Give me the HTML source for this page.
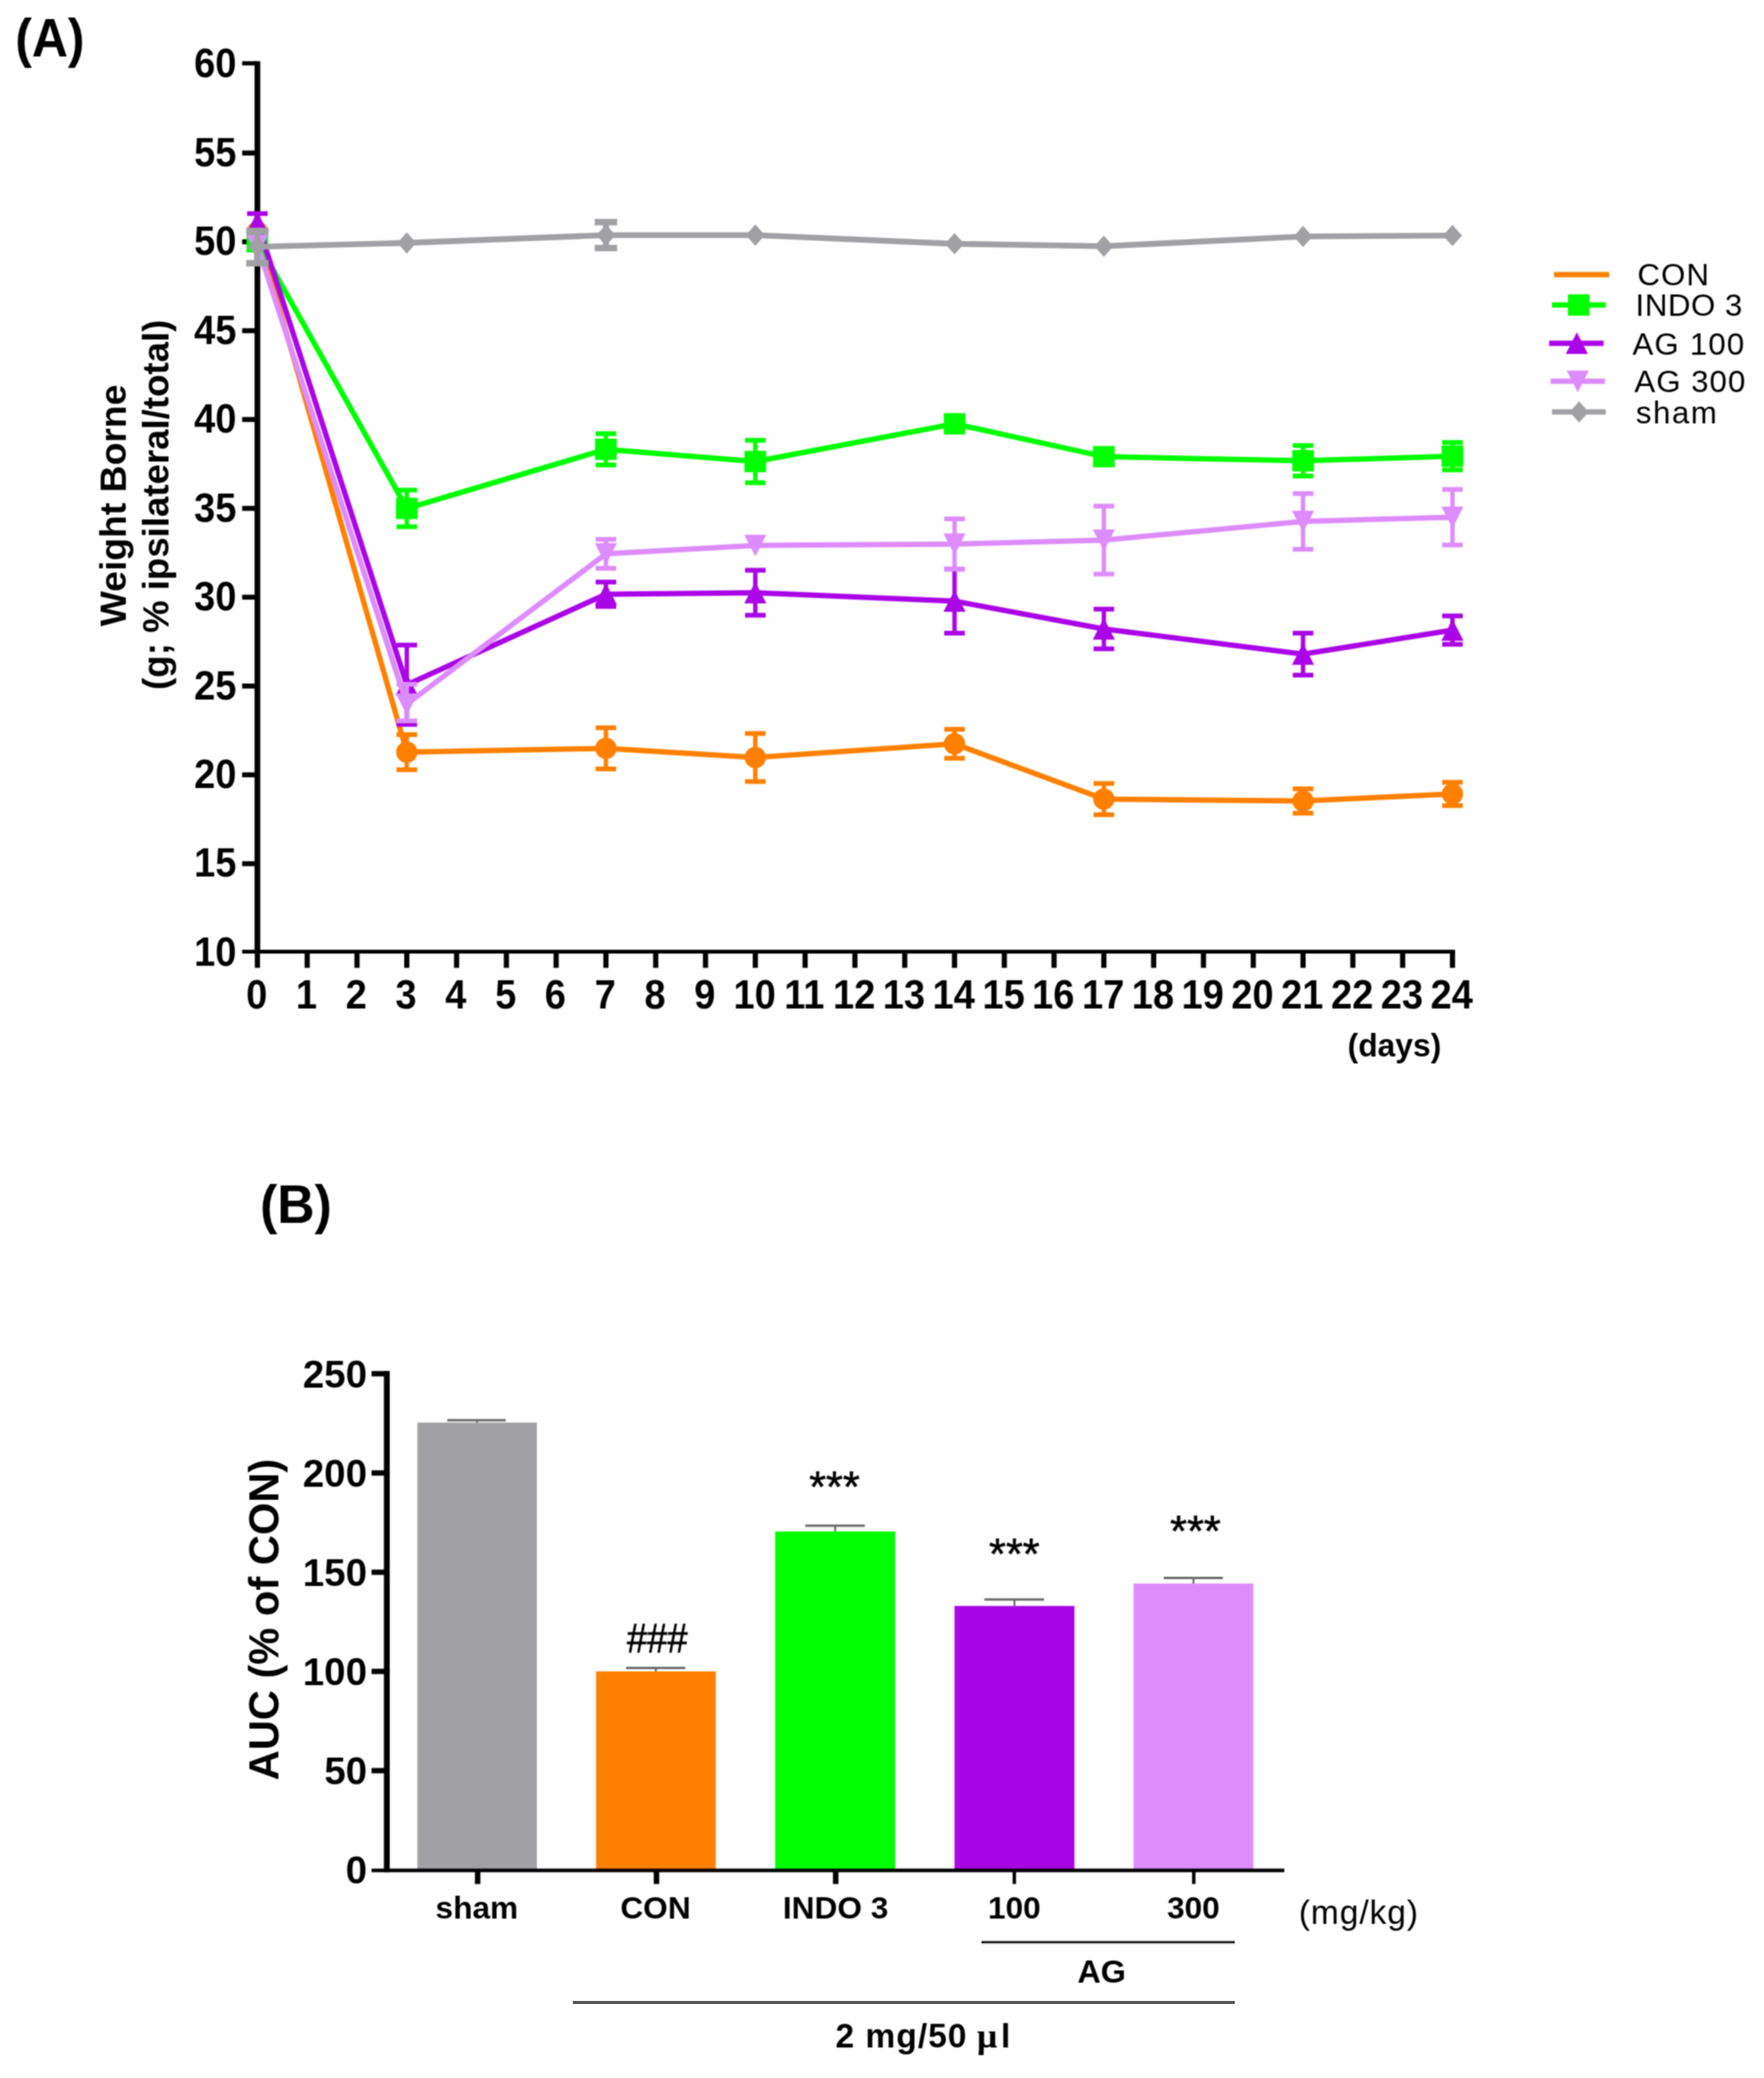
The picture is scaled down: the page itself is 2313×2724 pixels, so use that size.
<!DOCTYPE html>
<html lang="en"><head><meta charset="utf-8"><title>Figure</title>
<style>html,body{margin:0;padding:0;background:#fff}body{width:2313px;height:2724px;overflow:hidden}svg{display:block}</style>
</head><body>
<svg width="2313" height="2724" viewBox="0 0 2313 2724" font-family='"Liberation Sans", sans-serif'>
<defs><filter id="soft" x="0" y="0" width="2313" height="2724" filterUnits="userSpaceOnUse" color-interpolation-filters="sRGB"><feConvolveMatrix order="3" kernelMatrix="1 2 1 2 4 2 1 2 1" divisor="16" edgeMode="duplicate" preserveAlpha="true"/></filter></defs>
<g filter="url(#soft)">
<rect width="2313" height="2724" fill="#fff"/>
<text transform="translate(20 73.7) scale(0.936 1)" font-size="70" font-weight="bold">(A)</text>
<text transform="translate(340.9 1602.5) scale(0.97 1)" font-size="70" font-weight="bold">(B)</text>
<g stroke="#000" fill="none">
<line x1="337.5" y1="80.25" x2="337.5" y2="1250.2" stroke-width="7.5"/>
<line x1="317.5" y1="1247.4" x2="1907.8600000000001" y2="1247.4" stroke-width="5"/>
<line x1="317.5" y1="83.0" x2="337.5" y2="83.0" stroke-width="5.5"/>
<line x1="317.5" y1="1132.2" x2="337.5" y2="1132.2" stroke-width="6.5"/>
<line x1="317.5" y1="1015.7" x2="337.5" y2="1015.7" stroke-width="6.5"/>
<line x1="317.5" y1="899.3" x2="337.5" y2="899.3" stroke-width="6.5"/>
<line x1="317.5" y1="782.8" x2="337.5" y2="782.8" stroke-width="6.5"/>
<line x1="317.5" y1="666.4" x2="337.5" y2="666.4" stroke-width="6.5"/>
<line x1="317.5" y1="549.9" x2="337.5" y2="549.9" stroke-width="6.5"/>
<line x1="317.5" y1="433.5" x2="337.5" y2="433.5" stroke-width="6.5"/>
<line x1="317.5" y1="317.0" x2="337.5" y2="317.0" stroke-width="6.5"/>
<line x1="317.5" y1="200.6" x2="337.5" y2="200.6" stroke-width="6.5"/>
<line x1="337.5" y1="1247.2" x2="337.5" y2="1268.7" stroke-width="6.8"/>
<line x1="402.8" y1="1247.2" x2="402.8" y2="1268.7" stroke-width="6.8"/>
<line x1="468.1" y1="1247.2" x2="468.1" y2="1268.7" stroke-width="6.8"/>
<line x1="533.4" y1="1247.2" x2="533.4" y2="1268.7" stroke-width="6.8"/>
<line x1="598.7" y1="1247.2" x2="598.7" y2="1268.7" stroke-width="6.8"/>
<line x1="664.0" y1="1247.2" x2="664.0" y2="1268.7" stroke-width="6.8"/>
<line x1="729.2" y1="1247.2" x2="729.2" y2="1268.7" stroke-width="6.8"/>
<line x1="794.5" y1="1247.2" x2="794.5" y2="1268.7" stroke-width="6.8"/>
<line x1="859.8" y1="1247.2" x2="859.8" y2="1268.7" stroke-width="6.8"/>
<line x1="925.1" y1="1247.2" x2="925.1" y2="1268.7" stroke-width="6.8"/>
<line x1="990.4" y1="1247.2" x2="990.4" y2="1268.7" stroke-width="6.8"/>
<line x1="1055.7" y1="1247.2" x2="1055.7" y2="1268.7" stroke-width="6.8"/>
<line x1="1121.0" y1="1247.2" x2="1121.0" y2="1268.7" stroke-width="6.8"/>
<line x1="1186.3" y1="1247.2" x2="1186.3" y2="1268.7" stroke-width="6.8"/>
<line x1="1251.6" y1="1247.2" x2="1251.6" y2="1268.7" stroke-width="6.8"/>
<line x1="1316.9" y1="1247.2" x2="1316.9" y2="1268.7" stroke-width="6.8"/>
<line x1="1382.1" y1="1247.2" x2="1382.1" y2="1268.7" stroke-width="6.8"/>
<line x1="1447.4" y1="1247.2" x2="1447.4" y2="1268.7" stroke-width="6.8"/>
<line x1="1512.7" y1="1247.2" x2="1512.7" y2="1268.7" stroke-width="6.8"/>
<line x1="1578.0" y1="1247.2" x2="1578.0" y2="1268.7" stroke-width="6.8"/>
<line x1="1643.3" y1="1247.2" x2="1643.3" y2="1268.7" stroke-width="6.8"/>
<line x1="1708.6" y1="1247.2" x2="1708.6" y2="1268.7" stroke-width="6.8"/>
<line x1="1773.9" y1="1247.2" x2="1773.9" y2="1268.7" stroke-width="6.8"/>
<line x1="1839.2" y1="1247.2" x2="1839.2" y2="1268.7" stroke-width="6.8"/>
<line x1="1904.5" y1="1247.2" x2="1904.5" y2="1268.7" stroke-width="6.8"/>
</g>
<g font-size="53.6" font-weight="bold" text-anchor="end">
<text transform="translate(310 1265.9) scale(0.931 1)">10</text>
<text transform="translate(310 1149.4) scale(0.931 1)">15</text>
<text transform="translate(310 1032.9) scale(0.931 1)">20</text>
<text transform="translate(310 916.5) scale(0.931 1)">25</text>
<text transform="translate(310 800.0) scale(0.931 1)">30</text>
<text transform="translate(310 683.6) scale(0.931 1)">35</text>
<text transform="translate(310 567.1) scale(0.931 1)">40</text>
<text transform="translate(310 450.7) scale(0.931 1)">45</text>
<text transform="translate(310 334.2) scale(0.931 1)">50</text>
<text transform="translate(310 217.8) scale(0.931 1)">55</text>
<text transform="translate(310 101.4) scale(0.931 1)">60</text>
</g>
<g font-size="53.6" font-weight="bold" text-anchor="middle">
<text transform="translate(336.5 1322.2) scale(0.931 1)">0</text>
<text transform="translate(401.8 1322.2) scale(0.931 1)">1</text>
<text transform="translate(467.1 1322.2) scale(0.931 1)">2</text>
<text transform="translate(532.4 1322.2) scale(0.931 1)">3</text>
<text transform="translate(597.7 1322.2) scale(0.931 1)">4</text>
<text transform="translate(663.0 1322.2) scale(0.931 1)">5</text>
<text transform="translate(728.2 1322.2) scale(0.931 1)">6</text>
<text transform="translate(793.5 1322.2) scale(0.931 1)">7</text>
<text transform="translate(858.8 1322.2) scale(0.931 1)">8</text>
<text transform="translate(924.1 1322.2) scale(0.931 1)">9</text>
<text transform="translate(989.4 1322.2) scale(0.931 1)">10</text>
<text transform="translate(1054.7 1322.2) scale(0.931 1)">11</text>
<text transform="translate(1120.0 1322.2) scale(0.931 1)">12</text>
<text transform="translate(1185.3 1322.2) scale(0.931 1)">13</text>
<text transform="translate(1250.6 1322.2) scale(0.931 1)">14</text>
<text transform="translate(1315.9 1322.2) scale(0.931 1)">15</text>
<text transform="translate(1381.1 1322.2) scale(0.931 1)">16</text>
<text transform="translate(1446.4 1322.2) scale(0.931 1)">17</text>
<text transform="translate(1511.7 1322.2) scale(0.931 1)">18</text>
<text transform="translate(1577.0 1322.2) scale(0.931 1)">19</text>
<text transform="translate(1642.3 1322.2) scale(0.931 1)">20</text>
<text transform="translate(1707.6 1322.2) scale(0.931 1)">21</text>
<text transform="translate(1772.9 1322.2) scale(0.931 1)">22</text>
<text transform="translate(1838.2 1322.2) scale(0.931 1)">23</text>
<text transform="translate(1903.5 1322.2) scale(0.931 1)">24</text>
</g>
<text x="1767" y="1385" font-size="41.7" font-weight="bold">(days)</text>
<g font-size="49.5" font-weight="bold" text-anchor="middle">
<text transform="translate(165 662.6) rotate(-90)" font-size="48.9">Weight Borne</text>
<text transform="translate(221.2 661.7) rotate(-90)" font-size="48">(g; % ipsilateral/total)</text>
</g>
<g stroke="#FF8000" fill="none" stroke-linejoin="miter">
<line x1="533.4" y1="986.0" x2="533.4" y2="963.0" stroke-width="5.8"/>
<line x1="519.9" y1="963.0" x2="546.9" y2="963.0" stroke-width="6.2"/>
<line x1="533.4" y1="986.0" x2="533.4" y2="1009.0" stroke-width="5.8"/>
<line x1="519.9" y1="1009.0" x2="546.9" y2="1009.0" stroke-width="6.2"/>
<line x1="794.5" y1="981.0" x2="794.5" y2="954.0" stroke-width="5.8"/>
<line x1="781.0" y1="954.0" x2="808.0" y2="954.0" stroke-width="6.2"/>
<line x1="794.5" y1="981.0" x2="794.5" y2="1008.0" stroke-width="5.8"/>
<line x1="781.0" y1="1008.0" x2="808.0" y2="1008.0" stroke-width="6.2"/>
<line x1="990.4" y1="993.0" x2="990.4" y2="961.5" stroke-width="5.8"/>
<line x1="976.9" y1="961.5" x2="1003.9" y2="961.5" stroke-width="6.2"/>
<line x1="990.4" y1="993.0" x2="990.4" y2="1024.5" stroke-width="5.8"/>
<line x1="976.9" y1="1024.5" x2="1003.9" y2="1024.5" stroke-width="6.2"/>
<line x1="1251.6" y1="975.0" x2="1251.6" y2="956.0" stroke-width="5.8"/>
<line x1="1238.1" y1="956.0" x2="1265.1" y2="956.0" stroke-width="6.2"/>
<line x1="1251.6" y1="975.0" x2="1251.6" y2="994.0" stroke-width="5.8"/>
<line x1="1238.1" y1="994.0" x2="1265.1" y2="994.0" stroke-width="6.2"/>
<line x1="1447.4" y1="1047.5" x2="1447.4" y2="1027.0" stroke-width="5.8"/>
<line x1="1433.9" y1="1027.0" x2="1460.9" y2="1027.0" stroke-width="6.2"/>
<line x1="1447.4" y1="1047.5" x2="1447.4" y2="1068.0" stroke-width="5.8"/>
<line x1="1433.9" y1="1068.0" x2="1460.9" y2="1068.0" stroke-width="6.2"/>
<line x1="1708.6" y1="1050.0" x2="1708.6" y2="1034.0" stroke-width="5.8"/>
<line x1="1695.1" y1="1034.0" x2="1722.1" y2="1034.0" stroke-width="6.2"/>
<line x1="1708.6" y1="1050.0" x2="1708.6" y2="1066.0" stroke-width="5.8"/>
<line x1="1695.1" y1="1066.0" x2="1722.1" y2="1066.0" stroke-width="6.2"/>
<line x1="1904.5" y1="1040.8" x2="1904.5" y2="1025.5" stroke-width="5.8"/>
<line x1="1891.0" y1="1025.5" x2="1918.0" y2="1025.5" stroke-width="6.2"/>
<line x1="1904.5" y1="1040.8" x2="1904.5" y2="1056.1" stroke-width="5.8"/>
<line x1="1891.0" y1="1056.1" x2="1918.0" y2="1056.1" stroke-width="6.2"/>
<polyline points="337.5,304.0 533.4,986.0 794.5,981.0 990.4,993.0 1251.6,975.0 1447.4,1047.5 1708.6,1050.0 1904.5,1040.8" stroke-width="7"/>
</g>
<circle cx="337.5" cy="304.0" r="14" fill="#FF8000"/>
<circle cx="533.4" cy="986.0" r="14" fill="#FF8000"/>
<circle cx="794.5" cy="981.0" r="14" fill="#FF8000"/>
<circle cx="990.4" cy="993.0" r="14" fill="#FF8000"/>
<circle cx="1251.6" cy="975.0" r="14" fill="#FF8000"/>
<circle cx="1447.4" cy="1047.5" r="14" fill="#FF8000"/>
<circle cx="1708.6" cy="1050.0" r="14" fill="#FF8000"/>
<circle cx="1904.5" cy="1040.8" r="14" fill="#FF8000"/>
<g stroke="#00FF00" fill="none" stroke-linejoin="miter">
<line x1="533.4" y1="666.5" x2="533.4" y2="642.5" stroke-width="5.8"/>
<line x1="519.9" y1="642.5" x2="546.9" y2="642.5" stroke-width="6.2"/>
<line x1="533.4" y1="666.5" x2="533.4" y2="690.5" stroke-width="5.8"/>
<line x1="519.9" y1="690.5" x2="546.9" y2="690.5" stroke-width="6.2"/>
<line x1="794.5" y1="589.0" x2="794.5" y2="568.5" stroke-width="5.8"/>
<line x1="781.0" y1="568.5" x2="808.0" y2="568.5" stroke-width="6.2"/>
<line x1="794.5" y1="589.0" x2="794.5" y2="609.5" stroke-width="5.8"/>
<line x1="781.0" y1="609.5" x2="808.0" y2="609.5" stroke-width="6.2"/>
<line x1="990.4" y1="605.0" x2="990.4" y2="577.2" stroke-width="5.8"/>
<line x1="976.9" y1="577.2" x2="1003.9" y2="577.2" stroke-width="6.2"/>
<line x1="990.4" y1="605.0" x2="990.4" y2="632.8" stroke-width="5.8"/>
<line x1="976.9" y1="632.8" x2="1003.9" y2="632.8" stroke-width="6.2"/>
<line x1="1708.6" y1="604.0" x2="1708.6" y2="584.0" stroke-width="5.8"/>
<line x1="1695.1" y1="584.0" x2="1722.1" y2="584.0" stroke-width="6.2"/>
<line x1="1708.6" y1="604.0" x2="1708.6" y2="624.0" stroke-width="5.8"/>
<line x1="1695.1" y1="624.0" x2="1722.1" y2="624.0" stroke-width="6.2"/>
<line x1="1904.5" y1="598.0" x2="1904.5" y2="580.0" stroke-width="5.8"/>
<line x1="1891.0" y1="580.0" x2="1918.0" y2="580.0" stroke-width="6.2"/>
<line x1="1904.5" y1="598.0" x2="1904.5" y2="616.0" stroke-width="5.8"/>
<line x1="1891.0" y1="616.0" x2="1918.0" y2="616.0" stroke-width="6.2"/>
<polyline points="337.5,317.0 533.4,666.5 794.5,589.0 990.4,605.0 1251.6,555.6 1447.4,598.6 1708.6,604.0 1904.5,598.0" stroke-width="7"/>
</g>
<rect x="323.3" y="303.0" width="28.4" height="28" fill="#00FF00"/>
<rect x="519.2" y="652.5" width="28.4" height="28" fill="#00FF00"/>
<rect x="780.3" y="575.0" width="28.4" height="28" fill="#00FF00"/>
<rect x="976.2" y="591.0" width="28.4" height="28" fill="#00FF00"/>
<rect x="1237.4" y="541.6" width="28.4" height="28" fill="#00FF00"/>
<rect x="1433.2" y="584.6" width="28.4" height="28" fill="#00FF00"/>
<rect x="1694.4" y="590.0" width="28.4" height="28" fill="#00FF00"/>
<rect x="1890.3" y="584.0" width="28.4" height="28" fill="#00FF00"/>
<g stroke="#AA05E6" fill="none" stroke-linejoin="miter">
<line x1="337.5" y1="292.0" x2="337.5" y2="280.0" stroke-width="5.8"/>
<line x1="324.0" y1="280.0" x2="351.0" y2="280.0" stroke-width="6.2"/>
<line x1="337.5" y1="292.0" x2="337.5" y2="304.0" stroke-width="5.8"/>
<line x1="324.0" y1="304.0" x2="351.0" y2="304.0" stroke-width="6.2"/>
<line x1="533.4" y1="897.6" x2="533.4" y2="845.6" stroke-width="5.8"/>
<line x1="519.9" y1="845.6" x2="546.9" y2="845.6" stroke-width="6.2"/>
<line x1="533.4" y1="897.6" x2="533.4" y2="949.6" stroke-width="5.8"/>
<line x1="519.9" y1="949.6" x2="546.9" y2="949.6" stroke-width="6.2"/>
<line x1="794.5" y1="779.0" x2="794.5" y2="763.0" stroke-width="5.8"/>
<line x1="781.0" y1="763.0" x2="808.0" y2="763.0" stroke-width="6.2"/>
<line x1="794.5" y1="779.0" x2="794.5" y2="795.0" stroke-width="5.8"/>
<line x1="781.0" y1="795.0" x2="808.0" y2="795.0" stroke-width="6.2"/>
<line x1="990.4" y1="777.0" x2="990.4" y2="747.5" stroke-width="5.8"/>
<line x1="976.9" y1="747.5" x2="1003.9" y2="747.5" stroke-width="6.2"/>
<line x1="990.4" y1="777.0" x2="990.4" y2="806.5" stroke-width="5.8"/>
<line x1="976.9" y1="806.5" x2="1003.9" y2="806.5" stroke-width="6.2"/>
<line x1="1251.6" y1="788.0" x2="1251.6" y2="746.0" stroke-width="5.8"/>
<line x1="1238.1" y1="746.0" x2="1265.1" y2="746.0" stroke-width="6.2"/>
<line x1="1251.6" y1="788.0" x2="1251.6" y2="830.0" stroke-width="5.8"/>
<line x1="1238.1" y1="830.0" x2="1265.1" y2="830.0" stroke-width="6.2"/>
<line x1="1447.4" y1="824.5" x2="1447.4" y2="798.5" stroke-width="5.8"/>
<line x1="1433.9" y1="798.5" x2="1460.9" y2="798.5" stroke-width="6.2"/>
<line x1="1447.4" y1="824.5" x2="1447.4" y2="850.5" stroke-width="5.8"/>
<line x1="1433.9" y1="850.5" x2="1460.9" y2="850.5" stroke-width="6.2"/>
<line x1="1708.6" y1="857.5" x2="1708.6" y2="830.0" stroke-width="5.8"/>
<line x1="1695.1" y1="830.0" x2="1722.1" y2="830.0" stroke-width="6.2"/>
<line x1="1708.6" y1="857.5" x2="1708.6" y2="885.0" stroke-width="5.8"/>
<line x1="1695.1" y1="885.0" x2="1722.1" y2="885.0" stroke-width="6.2"/>
<line x1="1904.5" y1="826.0" x2="1904.5" y2="807.4" stroke-width="5.8"/>
<line x1="1891.0" y1="807.4" x2="1918.0" y2="807.4" stroke-width="6.2"/>
<line x1="1904.5" y1="826.0" x2="1904.5" y2="844.6" stroke-width="5.8"/>
<line x1="1891.0" y1="844.6" x2="1918.0" y2="844.6" stroke-width="6.2"/>
<polyline points="337.5,292.0 533.4,897.6 794.5,779.0 990.4,777.0 1251.6,788.0 1447.4,824.5 1708.6,857.5 1904.5,826.0" stroke-width="7"/>
</g>
<path d="M337.5 277.5 L352.0 306.0 L323.0 306.0Z" fill="#AA05E6"/>
<path d="M533.4 883.1 L547.9 911.6 L518.9 911.6Z" fill="#AA05E6"/>
<path d="M794.5 764.5 L809.0 793.0 L780.0 793.0Z" fill="#AA05E6"/>
<path d="M990.4 762.5 L1004.9 791.0 L975.9 791.0Z" fill="#AA05E6"/>
<path d="M1251.6 773.5 L1266.1 802.0 L1237.1 802.0Z" fill="#AA05E6"/>
<path d="M1447.4 810.0 L1461.9 838.5 L1432.9 838.5Z" fill="#AA05E6"/>
<path d="M1708.6 843.0 L1723.1 871.5 L1694.1 871.5Z" fill="#AA05E6"/>
<path d="M1904.5 811.5 L1919.0 840.0 L1890.0 840.0Z" fill="#AA05E6"/>
<g stroke="#DD8CFC" fill="none" stroke-linejoin="miter">
<line x1="533.4" y1="923.0" x2="533.4" y2="897.0" stroke-width="5.8"/>
<line x1="519.9" y1="897.0" x2="546.9" y2="897.0" stroke-width="6.2"/>
<line x1="533.4" y1="923.0" x2="533.4" y2="945.0" stroke-width="5.8"/>
<line x1="519.9" y1="945.0" x2="546.9" y2="945.0" stroke-width="6.2"/>
<line x1="794.5" y1="726.0" x2="794.5" y2="707.0" stroke-width="5.8"/>
<line x1="781.0" y1="707.0" x2="808.0" y2="707.0" stroke-width="6.2"/>
<line x1="794.5" y1="726.0" x2="794.5" y2="745.0" stroke-width="5.8"/>
<line x1="781.0" y1="745.0" x2="808.0" y2="745.0" stroke-width="6.2"/>
<line x1="1251.6" y1="713.2" x2="1251.6" y2="680.2" stroke-width="5.8"/>
<line x1="1238.1" y1="680.2" x2="1265.1" y2="680.2" stroke-width="6.2"/>
<line x1="1251.6" y1="713.2" x2="1251.6" y2="746.2" stroke-width="5.8"/>
<line x1="1238.1" y1="746.2" x2="1265.1" y2="746.2" stroke-width="6.2"/>
<line x1="1447.4" y1="708.0" x2="1447.4" y2="663.5" stroke-width="5.8"/>
<line x1="1433.9" y1="663.5" x2="1460.9" y2="663.5" stroke-width="6.2"/>
<line x1="1447.4" y1="708.0" x2="1447.4" y2="752.5" stroke-width="5.8"/>
<line x1="1433.9" y1="752.5" x2="1460.9" y2="752.5" stroke-width="6.2"/>
<line x1="1708.6" y1="683.5" x2="1708.6" y2="647.0" stroke-width="5.8"/>
<line x1="1695.1" y1="647.0" x2="1722.1" y2="647.0" stroke-width="6.2"/>
<line x1="1708.6" y1="683.5" x2="1708.6" y2="720.0" stroke-width="5.8"/>
<line x1="1695.1" y1="720.0" x2="1722.1" y2="720.0" stroke-width="6.2"/>
<line x1="1904.5" y1="678.0" x2="1904.5" y2="641.6" stroke-width="5.8"/>
<line x1="1891.0" y1="641.6" x2="1918.0" y2="641.6" stroke-width="6.2"/>
<line x1="1904.5" y1="678.0" x2="1904.5" y2="714.4" stroke-width="5.8"/>
<line x1="1891.0" y1="714.4" x2="1918.0" y2="714.4" stroke-width="6.2"/>
<polyline points="337.5,321.5 533.4,923.0 794.5,726.0 990.4,715.0 1251.6,713.2 1447.4,708.0 1708.6,683.5 1904.5,678.0" stroke-width="7"/>
</g>
<path d="M337.5 336.0 L352.0 307.5 L323.0 307.5Z" fill="#DD8CFC"/>
<path d="M533.4 937.5 L547.9 909.0 L518.9 909.0Z" fill="#DD8CFC"/>
<path d="M794.5 740.5 L809.0 712.0 L780.0 712.0Z" fill="#DD8CFC"/>
<path d="M990.4 729.5 L1004.9 701.0 L975.9 701.0Z" fill="#DD8CFC"/>
<path d="M1251.6 727.7 L1266.1 699.2 L1237.1 699.2Z" fill="#DD8CFC"/>
<path d="M1447.4 722.5 L1461.9 694.0 L1432.9 694.0Z" fill="#DD8CFC"/>
<path d="M1708.6 698.0 L1723.1 669.5 L1694.1 669.5Z" fill="#DD8CFC"/>
<path d="M1904.5 692.5 L1919.0 664.0 L1890.0 664.0Z" fill="#DD8CFC"/>
<g stroke="#A1A1A5" fill="none" stroke-linejoin="miter">
<line x1="337.5" y1="323.5" x2="337.5" y2="302.7" stroke-width="8"/>
<line x1="322.8" y1="302.7" x2="352.2" y2="302.7" stroke-width="8.5"/>
<line x1="337.5" y1="323.5" x2="337.5" y2="345.1" stroke-width="8"/>
<line x1="322.8" y1="345.1" x2="352.2" y2="345.1" stroke-width="8.5"/>
<line x1="794.5" y1="308.2" x2="794.5" y2="291.2" stroke-width="8"/>
<line x1="779.8" y1="291.2" x2="809.3" y2="291.2" stroke-width="8.5"/>
<line x1="794.5" y1="308.2" x2="794.5" y2="325.2" stroke-width="8"/>
<line x1="779.8" y1="325.2" x2="809.3" y2="325.2" stroke-width="8.5"/>
<polyline points="337.5,323.5 533.4,318.4 794.5,308.2 990.4,308.2 1251.6,319.6 1447.4,322.8 1708.6,310.0 1904.5,308.7" stroke-width="7.6"/>
</g>
<path d="M337.5 309.5 L350.0 323.5 L337.5 337.5 L325.0 323.5Z" fill="#A1A1A5"/>
<path d="M533.4 304.4 L545.9 318.4 L533.4 332.4 L520.9 318.4Z" fill="#A1A1A5"/>
<path d="M794.5 294.2 L807.0 308.2 L794.5 322.2 L782.0 308.2Z" fill="#A1A1A5"/>
<path d="M990.4 294.2 L1002.9 308.2 L990.4 322.2 L977.9 308.2Z" fill="#A1A1A5"/>
<path d="M1251.6 305.6 L1264.1 319.6 L1251.6 333.6 L1239.1 319.6Z" fill="#A1A1A5"/>
<path d="M1447.4 308.8 L1459.9 322.8 L1447.4 336.8 L1434.9 322.8Z" fill="#A1A1A5"/>
<path d="M1708.6 296.0 L1721.1 310.0 L1708.6 324.0 L1696.1 310.0Z" fill="#A1A1A5"/>
<path d="M1904.5 294.7 L1917.0 308.7 L1904.5 322.7 L1892.0 308.7Z" fill="#A1A1A5"/>
<line x1="2037.6" y1="360" x2="2110" y2="360" stroke="#FF8000" stroke-width="7"/>
<text x="2147" y="374.2" font-size="41" letter-spacing="1.35">CON</text>
<line x1="2035" y1="399.8" x2="2105.5" y2="399.8" stroke="#00FF00" stroke-width="7"/>
<rect x="2055.8" y="385.8" width="28.4" height="28" fill="#00FF00"/>
<text x="2144.6" y="414.2" font-size="41" letter-spacing="0.66">INDO 3</text>
<line x1="2031.3" y1="450" x2="2102.7" y2="450" stroke="#AA05E6" stroke-width="7"/>
<path d="M2067.6 435.5 L2082.1 464.0 L2053.1 464.0Z" fill="#AA05E6"/>
<text x="2140.4" y="464.8" font-size="41" letter-spacing="1.54">AG 100</text>
<line x1="2033.2" y1="499.8" x2="2104.6" y2="499.8" stroke="#DD8CFC" stroke-width="7"/>
<path d="M2068.8 514.3 L2083.3 485.8 L2054.3 485.8Z" fill="#DD8CFC"/>
<text x="2143" y="513.9" font-size="41" letter-spacing="1.28">AG 300</text>
<line x1="2035" y1="540" x2="2105.5" y2="540" stroke="#A1A1A5" stroke-width="7"/>
<path d="M2070.6 526.0 L2083.1 540.0 L2070.6 554.0 L2058.1 540.0Z" fill="#A1A1A5"/>
<text x="2144.9" y="554.5" font-size="41" letter-spacing="2.0">sham</text>
<g stroke="#000" fill="none">
<line x1="507.2" y1="1797.3" x2="507.2" y2="2454.2999999999997" stroke-width="7.6"/>
<line x1="487.2" y1="2321.1" x2="507.2" y2="2321.1" stroke-width="7"/>
<line x1="487.2" y1="2191.0" x2="507.2" y2="2191.0" stroke-width="7"/>
<line x1="487.2" y1="2061.0" x2="507.2" y2="2061.0" stroke-width="7"/>
<line x1="487.2" y1="1930.9" x2="507.2" y2="1930.9" stroke-width="7"/>
<line x1="487.2" y1="1800.8" x2="507.2" y2="1800.8" stroke-width="7"/>
</g>
<rect x="547.2" y="1864.8" width="156.8" height="586.4" fill="#A1A1A5"/>
<line x1="625.6" y1="1864.8" x2="625.6" y2="1861.8" stroke="#666" stroke-width="2.5"/>
<line x1="586.5" y1="1861.8" x2="663" y2="1861.8" stroke="#666" stroke-width="3"/>
<rect x="781.6" y="2191.0" width="156.9" height="260.2" fill="#FF8000"/>
<line x1="860.0" y1="2191.0" x2="860.0" y2="2186.4" stroke="#666" stroke-width="2.5"/>
<line x1="821" y1="2186.4" x2="898.5" y2="2186.4" stroke="#666" stroke-width="3"/>
<rect x="1016.4" y="2007.6" width="157.4" height="443.6" fill="#00FF00"/>
<line x1="1095.1" y1="2007.6" x2="1095.1" y2="1999.9" stroke="#666" stroke-width="2.5"/>
<line x1="1055.8" y1="1999.9" x2="1134" y2="1999.9" stroke="#666" stroke-width="3"/>
<rect x="1251.6" y="2105.2" width="157.2" height="346.0" fill="#AA05E6"/>
<line x1="1330.2" y1="2105.2" x2="1330.2" y2="2096.7" stroke="#666" stroke-width="2.5"/>
<line x1="1290.7" y1="2096.7" x2="1369" y2="2096.7" stroke="#666" stroke-width="3"/>
<rect x="1486.3" y="2075.8" width="157.2" height="375.4" fill="#DD8CFC"/>
<line x1="1564.9" y1="2075.8" x2="1564.9" y2="2068.4" stroke="#666" stroke-width="2.5"/>
<line x1="1526" y1="2068.4" x2="1603.5" y2="2068.4" stroke="#666" stroke-width="3"/>
<g stroke="#000" fill="none">
<line x1="487.2" y1="2451.7999999999997" x2="1684" y2="2451.7999999999997" stroke-width="4.8"/>
<line x1="626.3" y1="2451.2" x2="626.3" y2="2469.7" stroke-width="7.2"/>
<line x1="860.8" y1="2451.2" x2="860.8" y2="2469.7" stroke-width="7.2"/>
<line x1="1095.8" y1="2451.2" x2="1095.8" y2="2469.7" stroke-width="7.2"/>
<line x1="1330" y1="2451.2" x2="1330" y2="2469.7" stroke-width="4.5"/>
<line x1="1565.3" y1="2451.2" x2="1565.3" y2="2469.7" stroke-width="4.5"/>
</g>
<g font-size="50.5" font-weight="bold" text-anchor="end">
<text x="481.3" y="2469.2">0</text>
<text x="481.3" y="2339.1">50</text>
<text x="481.3" y="2209.0">100</text>
<text x="481.3" y="2079.0">150</text>
<text x="481.3" y="1948.9">200</text>
<text x="481.3" y="1818.8">250</text>
</g>
<text transform="translate(365 2123) rotate(-90)" font-size="54.6" font-weight="bold" text-anchor="middle">AUC (% of CON)</text>
<g font-size="41.5" font-weight="bold" text-anchor="middle">
<text x="625.3" y="2514.5">sham</text>
<text x="859.5" y="2514.5">CON</text>
<text x="1095.7" y="2514.5">INDO 3</text>
<text x="1330" y="2514.5">100</text>
<text x="1564.8" y="2514.5">300</text>
<text x="1444.5" y="2599" font-size="42.5">AG</text>
</g>
<text x="1703" y="2522.3" font-size="44" letter-spacing="1.2">(mg/kg)</text>
<text x="1095.5" y="2683.5" font-size="44" font-weight="bold" letter-spacing="1.3">2 mg/50 <tspan font-family='"Liberation Serif", "DejaVu Serif", serif' font-weight="bold" font-size="47" dx="-1">μ</tspan><tspan dx="3.5">l</tspan></text>
<text transform="translate(861.8 2165.5) scale(0.9 1)" font-size="53" text-anchor="middle" stroke="#000" stroke-width="0.8">###</text>
<g font-size="57" text-anchor="middle" stroke="#000" stroke-width="0.7">
<text x="1094.2" y="1968.5">***</text>
<text x="1330" y="2057">***</text>
<text x="1567.5" y="2027">***</text>
</g>
</g>
<line x1="1287" y1="2546" x2="1619" y2="2546" stroke="#cdcdcd" stroke-width="5.6"/>
<line x1="1287" y1="2546" x2="1619" y2="2546" stroke="#222" stroke-width="2.4"/>
<line x1="751.2" y1="2625" x2="1619" y2="2625" stroke="#555" stroke-width="3.8"/>
</svg>
</body></html>
